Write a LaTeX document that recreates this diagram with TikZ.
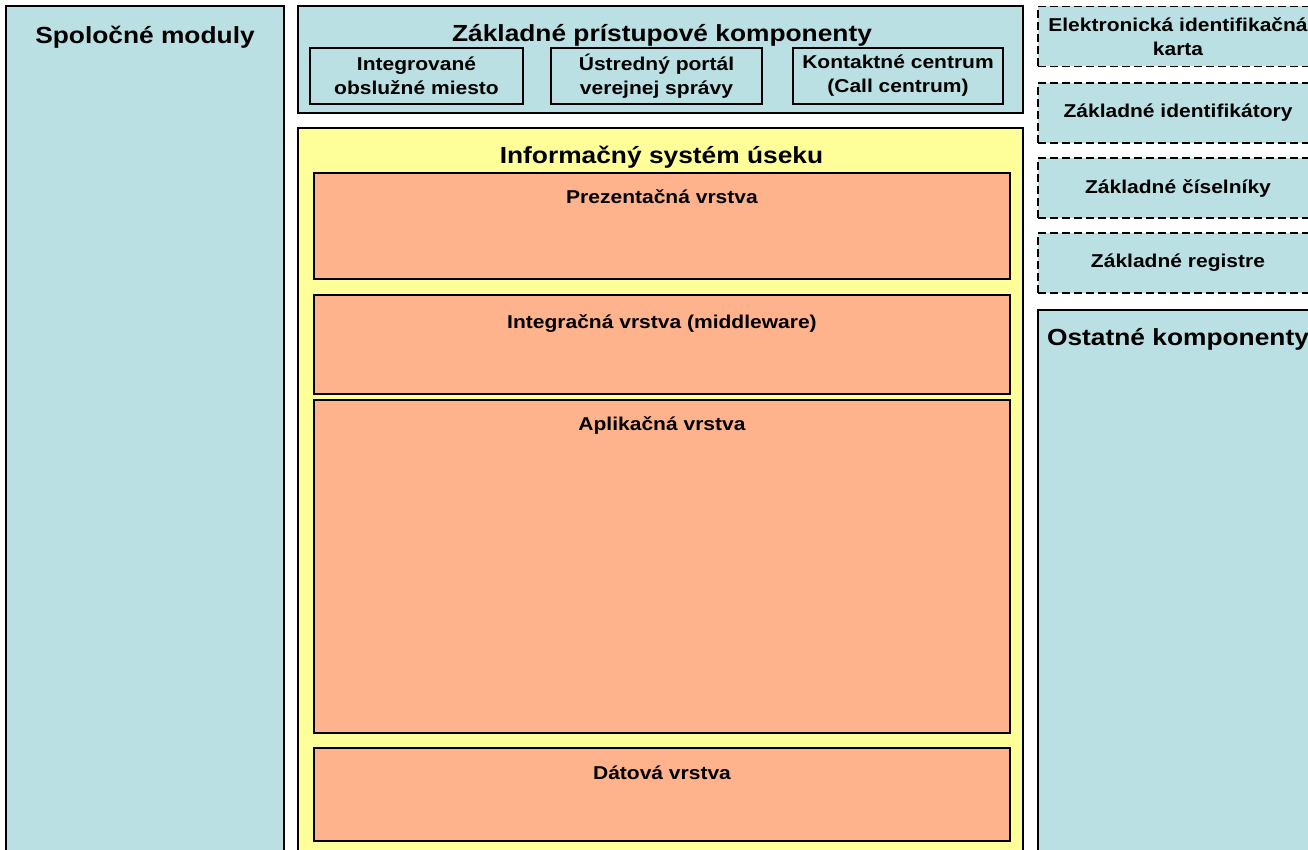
\documentclass[tikz,border=0pt]{standalone}
\usepackage{fontspec}
\setmainfont{Liberation Sans}[FakeStretch=1.13]
\definecolor{modclr}{RGB}{187,224,227}
\definecolor{isclr}{RGB}{255,255,153}
\definecolor{layerclr}{RGB}{254,179,141}

\begin{document}
\begin{tikzpicture}[
    x=1pt,
    y=-1pt,
    bigtext/.style={font=\fontsize{23.3}{26}\selectfont\bfseries, inner sep=0pt},
    smalltext/.style={font=\fontsize{18.6}{24}\selectfont\bfseries, inner sep=0pt, align=center},
    modbox/.style={draw=black, fill=modclr, line width=1.8pt, inner sep=0pt},
    subbox/.style={draw=black, line width=1.8pt, minimum width=211pt, minimum height=56pt, inner sep=0pt, font=\fontsize{18.6}{24}\selectfont\bfseries, align=center},
    isbox/.style={draw=black, fill=isclr, line width=1.8pt, inner sep=0pt},
    layerbox/.style={draw=black, fill=layerclr, line width=1.8pt, inner sep=0pt, minimum width=696pt},
    dashbox/.style={draw=black, fill=modclr, line width=1.5pt, dash pattern=on 8pt off 4pt, minimum width=280pt, minimum height=60pt, inner sep=0pt, font=\fontsize{18.6}{24}\selectfont\bfseries, align=center}
]

\useasboundingbox (0,0) rectangle (1308,850);
\clip (0,0) rectangle (1308,850);

% Left column.
\node[modbox, minimum width=278pt, minimum height=874pt] (spol_mod) at (145, 443) {};
\node[bigtext, anchor=base] (spol_title) at (145, 44) {Spoločné moduly};

% Access components.
\node[modbox, minimum width=725pt, minimum height=107pt] (zak_komp) at (660.5, 59.5) {};
\node[bigtext, anchor=base] (zak_title) at (662, 42) {Základné prístupové komponenty};
\node[subbox, minimum width=213pt] (iom) at (416.5, 76) {Integrované\\obslužné miesto};
\node[subbox] (uppvs) at (656.5, 76) {Ústredný portál\\verejnej správy};
\node[subbox, minimum width=210pt] (kc) at (898, 76) {Kontaktné centrum\\(Call centrum)};

% Information system layers.
\node[isbox, minimum width=725pt, minimum height=752pt] (is_usek) at (660.5, 504) {};
\node[bigtext, anchor=base] (is_title) at (661.5, 164) {Informačný systém úseku};

\node[layerbox, minimum height=106pt] (prez_vr) at (662, 226) {};
\node[smalltext, anchor=base] (prez_title) at (662, 204) {Prezentačná vrstva};
\node[layerbox, minimum height=99pt] (integ_vr) at (662, 344.5) {};
\node[smalltext, anchor=base] (integ_title) at (662, 328) {Integračná vrstva (middleware)};
\node[layerbox, minimum height=333pt] (aplik_vr) at (662, 566.5) {};
\node[smalltext, anchor=base] (aplik_title) at (662, 430) {Aplikačná vrstva};
\node[layerbox, minimum height=93pt] (dat_vr) at (662, 794.5) {};
\node[smalltext, anchor=base] (dat_title) at (662, 779) {Dátová vrstva};

% Right column.
\node[dashbox] (eik) at (1178, 36.5) {Elektronická identifikačná\\karta};
\node[dashbox] (zak_id) at (1178, 113) {Základné identifikátory};
\node[dashbox] (zak_cis) at (1178, 188) {Základné číselníky};
\node[dashbox] (zak_reg) at (1178, 263) {Základné registre};

\node[modbox, minimum width=280pt, minimum height=570pt] (ost_komp) at (1178, 595) {};
\node[bigtext, anchor=base] (ost_title) at (1178, 345) {Ostatné komponenty};

\end{tikzpicture}
\end{document}
